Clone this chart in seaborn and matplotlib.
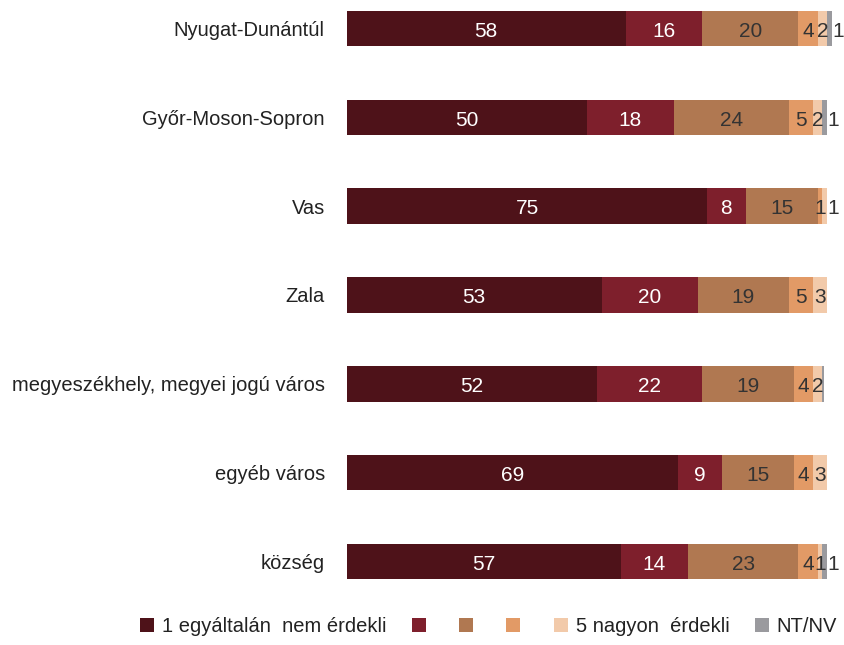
import numpy as np
import matplotlib
matplotlib.use("Agg")
import matplotlib.pyplot as plt
import seaborn as sns
import pandas as pd
from matplotlib.patches import Patch

categories = ["Nyugat-Dunántúl", "Győr-Moson-Sopron", "Vas", "Zala",
              "megyeszékhely, megyei jogú város", "egyéb város", "község"]
series_names = ["1 egyáltalán  nem érdekli", "2", "3", "4", "5 nagyon  érdekli", "NT/NV"]
legend_labels = ["1 egyáltalán  nem érdekli", "", "", "", "5 nagyon  érdekli", "NT/NV"]
v1 = [58, 50, 75, 53, 52, 69, 57]
v2 = [16, 18, 8, 20, 22, 9, 14]
v3 = [20, 24, 15, 19, 19, 15, 23]
v4 = [4, 5, 1, 5, 4, 4, 4]
v5 = [2, 2, 1, 3, 2, 3, 1]
v6 = [1, 1, 0, 0, 0.4, 0, 1]
colors = ["#4E1219", "#7E1F2C", "#B07851", "#E29A66", "#F2CAAA", "#9A9A9E"]
text_colors = ["white", "white", "#333333", "#333333", "#333333", "#333333"]

sns.set_style("white")
plt.rcParams["font.family"] = ["Liberation Sans", "DejaVu Sans"]

data = np.array([v1, v2, v3, v4, v5, v6], dtype=float)
cum = np.cumsum(data, axis=0)

fig = plt.figure(figsize=(8.45, 6.45), dpi=100)
ax = fig.add_axes([347 / 845, 1 - 588 / 645, (832 - 347) / 845, 586 / 645])

# stacked bars: draw cumulative totals from the widest down
for i in range(len(series_names) - 1, -1, -1):
    df = pd.DataFrame({"cat": categories, "val": cum[i]})
    sns.barplot(data=df, x="val", y="cat", orient="h", color=colors[i],
                saturation=1, width=0.4, ax=ax, linewidth=0)

for j in range(len(categories)):
    last = max(i for i in range(len(series_names)) if data[i, j] > 0)
    for i in range(len(series_names)):
        v = data[i, j]
        if v < 1:
            continue
        start = cum[i, j] - v
        if i == last and v < 1.5:
            # tiny last segment: label just after the bar end
            ax.text(cum[i, j] + 0.05, j + 0.03, f"{v:g}", ha="left", va="center",
                    color=text_colors[i], fontsize=15, clip_on=False)
        else:
            ax.text(start + v / 2, j + 0.03, f"{v:g}", ha="center", va="center",
                    color=text_colors[i], fontsize=15)

ax.set_xlim(0, 101)
ax.set_ylim(6.3, -0.3)
ax.set_xlabel("")
ax.set_ylabel("")
ax.set_xticks([])
ax.tick_params(axis="y", length=0, labelsize=14.5, pad=16, labelcolor="#222222")
for s in ax.spines.values():
    s.set_visible(False)

handles = [Patch(facecolor=c, edgecolor="none") for c in colors]
fig.legend(handles, legend_labels, loc="lower center", bbox_to_anchor=(0.578, -0.014),
           ncol=6, frameon=False, fontsize=14.5, handlelength=0.7, handleheight=0.7,
           handletextpad=0.4, columnspacing=1.25, labelcolor="#222222")

fig.savefig("out.png", dpi=100)
